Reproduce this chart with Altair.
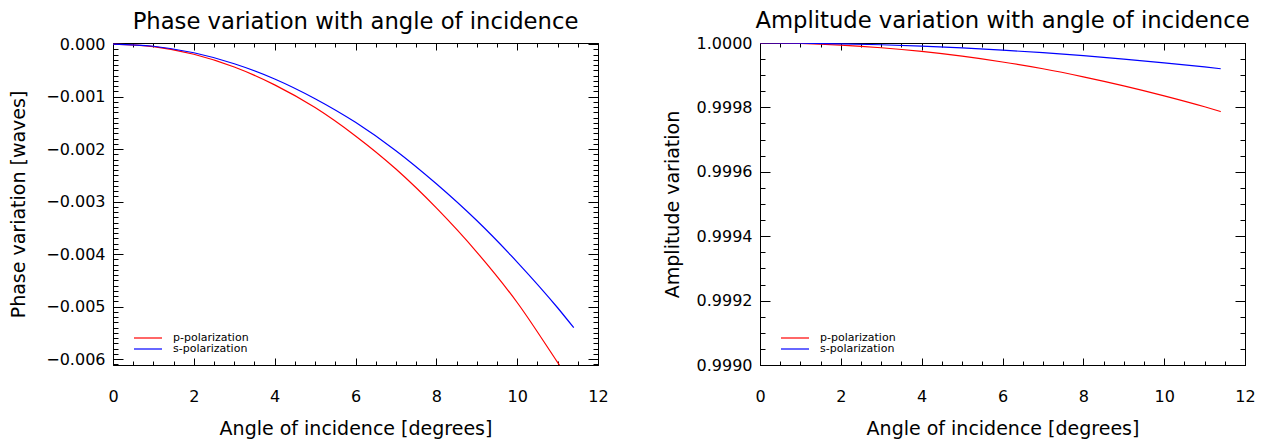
import altair as alt
import pandas as pd

# ---------------- data ----------------
angles = [0, 1, 2, 3, 4, 5, 6, 7, 8, 9, 10, 11, 11.4]
series_names = ["p-polarization", "s-polarization"]

phase_p = [0.0, -0.000048, -0.000194, -0.000437, -0.000777, -0.00121, -0.00175,
           -0.00238, -0.00312, -0.00396, -0.00492, -0.00606, -0.00652]
phase_s = [0.0, -0.000042, -0.000166, -0.000374, -0.000664, -0.00104, -0.00149,
           -0.00203, -0.00266, -0.00336, -0.00415, -0.00502, -0.0054]

amp_p = [1.0, 0.9999984, 0.9999934, 0.9999852, 0.9999738, 0.999959, 0.999941,
         0.99992, 0.999895, 0.999867, 0.999836, 0.999802, 0.999787]
amp_s = [1.0, 0.9999994, 0.9999975, 0.9999945, 0.9999902, 0.9999846, 0.9999779,
         0.9999699, 0.9999606, 0.9999502, 0.9999385, 0.9999256, 0.99992]

x_major = [0, 2, 4, 6, 8, 10, 12]
x_minor = [i * 0.5 for i in range(25)]
phase_major = [0.0, -0.001, -0.002, -0.003, -0.004, -0.005, -0.006]
phase_minor = [round(-i * 0.0001, 6) for i in range(62)]
amp_major = [1.0, 0.9998, 0.9996, 0.9994, 0.9992, 0.999]
amp_minor = [round(0.999 + i * 0.00005, 6) for i in range(21)]


def frame(ys_p, ys_s):
    rows = []
    for a, v in zip(angles, ys_p):
        rows.append({"angle": a, "value": v, "pol": series_names[0]})
    for a, v in zip(angles, ys_s):
        rows.append({"angle": a, "value": v, "pol": series_names[1]})
    return pd.DataFrame(rows)


W, H = 485, 322
FONT = "DejaVu Sans"


def panel(df, y_dom, y_fmt, y_major, y_minor, title, ytitle, ytitle_pad):
    xs = alt.Scale(domain=[0, 12], nice=False, zero=False)
    ys = alt.Scale(domain=y_dom, nice=False, zero=False)
    base = alt.Chart(df)

    lines = base.mark_line(clip=True, strokeWidth=1.2, interpolate="monotone").encode(
        x=alt.X("angle:Q", scale=xs,
                axis=alt.Axis(orient="bottom", values=x_major, format="d",
                              title="Angle of incidence [degrees]", ticks=False,
                              domain=False, grid=False, labelPadding=23,
                              labelFlush=False, titlePadding=15)),
        y=alt.Y("value:Q", scale=ys,
                axis=alt.Axis(orient="left", values=y_major, format=y_fmt,
                              title=ytitle, ticks=False, domain=False, grid=False,
                              labelPadding=8, titlePadding=ytitle_pad)),
        color=alt.Color("pol:N",
                        scale=alt.Scale(domain=series_names, range=["#ff0000", "#0000ff"]),
                        legend=alt.Legend(orient="none", legendX=20, legendY=289,
                                          title=None, symbolType="M-1,0H4.6",
                                          symbolSize=100, symbolStrokeWidth=1.2,
                                          symbolFillColor="transparent",
                                          labelFontSize=11, labelOffset=28,
                                          rowPadding=0, padding=0,
                                          labelFont=FONT, labelColor="black")),
    )

    def ticks_layer(xorient, xoff, xvals, xsize, yorient, yoff, yvals, ysize):
        return base.mark_point(opacity=0).encode(
            x=alt.X("angle:Q", scale=xs,
                    axis=alt.Axis(orient=xorient, offset=xoff, values=xvals,
                                  tickSize=xsize, labels=False, domain=False,
                                  grid=False, title=None)),
            y=alt.Y("value:Q", scale=ys,
                    axis=alt.Axis(orient=yorient, offset=yoff, values=yvals,
                                  tickSize=ysize, labels=False, domain=False,
                                  grid=False, title=None)),
        )

    t1 = ticks_layer("top", -H, x_major, 7, "right", -W, y_major, 10)
    t2 = ticks_layer("top", -H, x_minor, 4, "right", -W, y_minor, 5)
    t3 = ticks_layer("bottom", -H, x_major, 7, "left", -W, y_major, 10)
    t4 = ticks_layer("bottom", -H, x_minor, 4, "left", -W, y_minor, 5)

    return alt.layer(lines, t1, t2, t3, t4).resolve_axis(
        x="independent", y="independent"
    ).properties(
        width=W, height=H,
        title=alt.TitleParams(title, fontSize=22.7, font=FONT, fontWeight="normal",
                              anchor="middle", offset=2, color="black"),
    )


left = panel(frame(phase_p, phase_s), [-0.00611, 0.00002], ".3f",
             phase_major, phase_minor,
             "Phase variation with angle of incidence", "Phase variation [waves]", 17)
right = panel(frame(amp_p, amp_s), [0.999, 1.0], ".4f",
              amp_major, amp_minor,
              "Amplitude variation with angle of incidence", "Amplitude variation", 14)

chart = alt.hconcat(left, right, spacing=53, padding=1).resolve_scale(
    color="independent"
).configure_view(
    stroke="black", strokeWidth=1
).configure_axis(
    labelFont=FONT, titleFont=FONT, labelFontSize=16, titleFontSize=19,
    labelColor="black", titleColor="black", tickColor="black",
    titleFontWeight="normal",
)

chart.save("out.html", embed_options={"renderer": "svg", "actions": False})
